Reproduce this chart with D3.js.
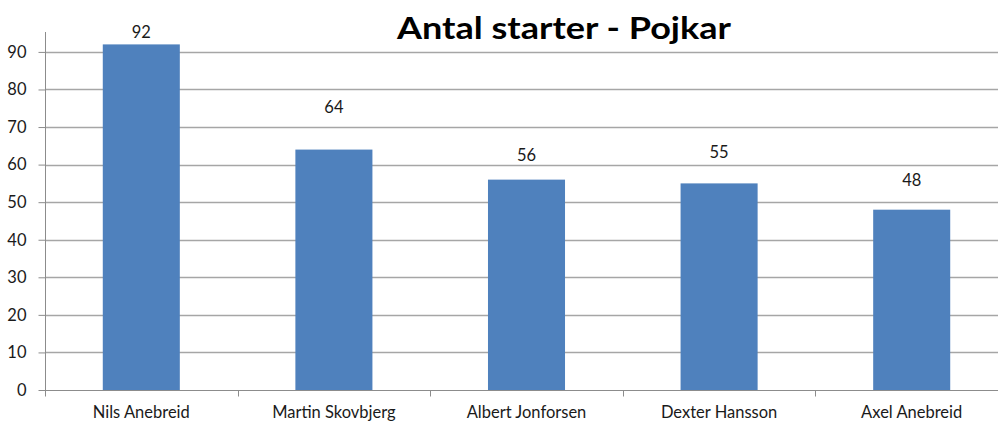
<!DOCTYPE html>
<html><head><meta charset="utf-8">
<script src="https://cdn.jsdelivr.net/npm/d3@7"></script>
<style>body{margin:0;background:#fff}svg{display:block}text{font-family:Lato,"Open Sans",sans-serif}</style>
</head><body>
<svg id="c" width="998" height="423"></svg>
<script>
const categories = ["Nils Anebreid","Martin Skovbjerg","Albert Jonforsen","Dexter Hansson","Axel Anebreid"];
const values = [92,64,56,55,48];
const yTicks = [0,10,20,30,40,50,60,70,80,90];
const title = "Antal starter - Pojkar";
// label gaps above bar tops (px), as placed in the original chart
const labelGap = [6,37,19,25,24];

const svg = d3.select("#c");
const x = d3.scaleBand().domain(categories).range([45, 1008]).padding(0);
const y = d3.scaleLinear().domain([0, 95.3]).range([390, 32]);
const barW = x.bandwidth() * 0.40;

// gridlines
svg.append("g").selectAll("line").data(yTicks.filter(d=>d>0)).join("line")
  .attr("x1", 45).attr("x2", 998).attr("y1", d=>Math.round(y(d))+0.5).attr("y2", d=>Math.round(y(d))+0.5)
  .attr("stroke", "#a6a6a6").attr("stroke-width", 1.5);

// y axis
const ya = svg.append("g").attr("transform","translate(45.5,0)")
  .call(d3.axisLeft(y).tickValues(yTicks).tickSize(7).tickPadding(12).tickFormat(d3.format("d")));
ya.select(".domain").remove();
ya.append("line").attr("x1",0).attr("x2",0).attr("y1",32).attr("y2",390).attr("stroke","#8c8c8c");
ya.selectAll(".tick line").attr("stroke","#8c8c8c");
ya.selectAll(".tick text").attr("font-size",16.5).attr("fill","#1a1a1a").attr("font-family","Lato");

// bars
svg.append("g").selectAll("rect").data(values).join("rect")
  .attr("x",(d,i)=>x(categories[i]) + (x.bandwidth()-barW)/2)
  .attr("y",d=>y(d)).attr("width",barW).attr("height",d=>y(0)-y(d))
  .attr("fill","#4f81bd");

// x axis
const xa = svg.append("g").attr("transform","translate(0,390.5)");
xa.append("line").attr("x1",45).attr("x2",998).attr("y1",0).attr("y2",0).attr("stroke","#8c8c8c");
xa.selectAll("line.t").data(d3.range(categories.length+1)).join("line").attr("class","t")
  .attr("x1",i=>Math.round(45 + i*x.step())+0.5).attr("x2",i=>Math.round(45 + i*x.step())+0.5)
  .attr("y1",0).attr("y2",6).attr("stroke","#8c8c8c");
xa.selectAll("text").data(categories).join("text")
  .attr("x",d=>x(d)+x.bandwidth()/2).attr("y",27.5)
  .attr("text-anchor","middle").attr("font-size",16.5).attr("fill","#1a1a1a").text(d=>d);

// value labels
svg.append("g").selectAll("text").data(values).join("text")
  .attr("x",(d,i)=>x(categories[i])+x.bandwidth()/2).attr("y",(d,i)=>y(d)-labelGap[i])
  .attr("text-anchor","middle").attr("font-size",16.5).attr("fill","#1a1a1a").text(d=>d);

// title
svg.append("text").attr("x",397).attr("y",39)
  .attr("font-size",30).attr("font-weight","bold").attr("fill","#000")
  .attr("textLength",334).attr("lengthAdjust","spacingAndGlyphs").text(title);
</script>
</body></html>
